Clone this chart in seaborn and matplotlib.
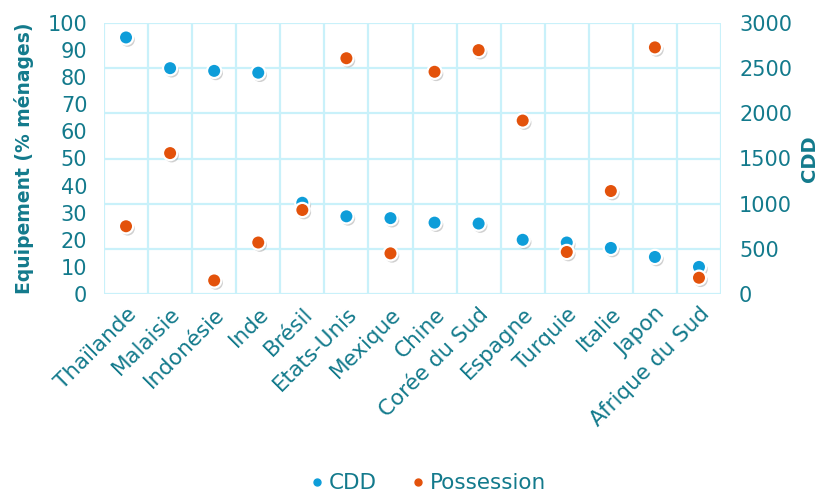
import matplotlib
matplotlib.use("Agg")
import matplotlib.pyplot as plt
import matplotlib.patheffects as pe
from matplotlib.lines import Line2D
from matplotlib.ticker import MultipleLocator
import numpy as np
import pandas as pd
import seaborn as sns

pays = ["Thaïlande", "Malaisie", "Indonésie", "Inde", "Brésil", "Etats-Unis",
        "Mexique", "Chine", "Corée du Sud", "Espagne", "Turquie", "Italie",
        "Japon", "Afrique du Sud"]
cdd = [2840, 2500, 2470, 2450, 1010, 860, 840, 790, 780, 600, 570, 510, 410, 300]
possession = [25, 52, 5, 19, 31, 87, 15, 82, 90, 64, 15.5, 38, 91, 6]

BLUE = "#0E9DD9"
ORANGE = "#E3520B"
TEXT = "#137A8C"
GRID = "#C9F1FA"

df = pd.DataFrame({"pays": pays, "CDD": cdd, "Possession": possession})

sns.set_theme(style="white")
plt.rcParams["font.family"] = ["DejaVu Sans"]

fig, ax = plt.subplots(figsize=(8.28, 5.0), dpi=100)
fig.subplots_adjust(left=0.1256, right=0.8708, top=0.954, bottom=0.412)
ax2 = ax.twinx()

# ax (left): equipment share, drawn above the CDD axis
ax.set_zorder(3)
ax.patch.set_visible(False)
ax2.set_zorder(1)

shadow = [pe.SimplePatchShadow(offset=(1.2, -1.6), shadow_rgbFace="#7a7a7a", alpha=0.35), pe.Normal()]

sns.scatterplot(data=df, x="pays", y="CDD", ax=ax2, color=BLUE, s=105,
                edgecolor="white", linewidth=1.6, legend=False, zorder=3,
                path_effects=shadow)
sns.scatterplot(data=df, x="pays", y="Possession", ax=ax, color=ORANGE, s=105,
                edgecolor="white", linewidth=1.6, legend=False, zorder=3,
                path_effects=shadow)

n = len(pays)
for a in (ax, ax2):
    a.set_xlim(-0.5, n - 0.5)
    for s in a.spines.values():
        s.set_visible(False)

ax.set_ylim(0, 100)
ax.yaxis.set_major_locator(MultipleLocator(10))
ax2.set_ylim(0, 3000)
ax2.yaxis.set_major_locator(MultipleLocator(500))

# grid: CDD horizontal lines and category boundaries
ax2.grid(False)
ax.grid(False)
for yv in np.arange(0, 3001, 500):
    ax2.axhline(yv, color=GRID, lw=1.6, zorder=0)
for xv in np.arange(-0.5, n, 1.0):
    ax2.axvline(xv, color=GRID, lw=1.6, zorder=0)

ax.set_xticks(range(n))
ax.set_xticklabels(pays, rotation=45, ha="right", rotation_mode="anchor",
                   fontsize=15.5, color=TEXT)
ax.tick_params(axis="x", length=0, pad=7)
ax2.tick_params(axis="x", length=0, labelbottom=False)
ax.set_xlabel("")
ax2.set_xlabel("")

ax.tick_params(axis="y", length=0, labelsize=15, labelcolor=TEXT, pad=12)
ax2.tick_params(axis="y", length=0, labelsize=15, labelcolor=TEXT, pad=13)

ax.set_ylabel("Equipement (% ménages)", fontsize=13.5, fontweight="bold",
              color=TEXT, labelpad=10)
ax2.set_ylabel("CDD", fontsize=14, fontweight="bold", color=TEXT, labelpad=6)

handles = [
    Line2D([], [], marker="o", ls="", color=BLUE, markersize=5, label="CDD"),
    Line2D([], [], marker="o", ls="", color=ORANGE, markersize=5, label="Possession"),
]
leg = fig.legend(handles=handles, loc="lower center", bbox_to_anchor=(0.515, -0.025),
                 ncol=2, frameon=False, fontsize=15.5, handletextpad=0.05,
                 columnspacing=1.4, handlelength=1.0)
for t in leg.get_texts():
    t.set_color(TEXT)

fig.savefig("out.png", dpi=100)
